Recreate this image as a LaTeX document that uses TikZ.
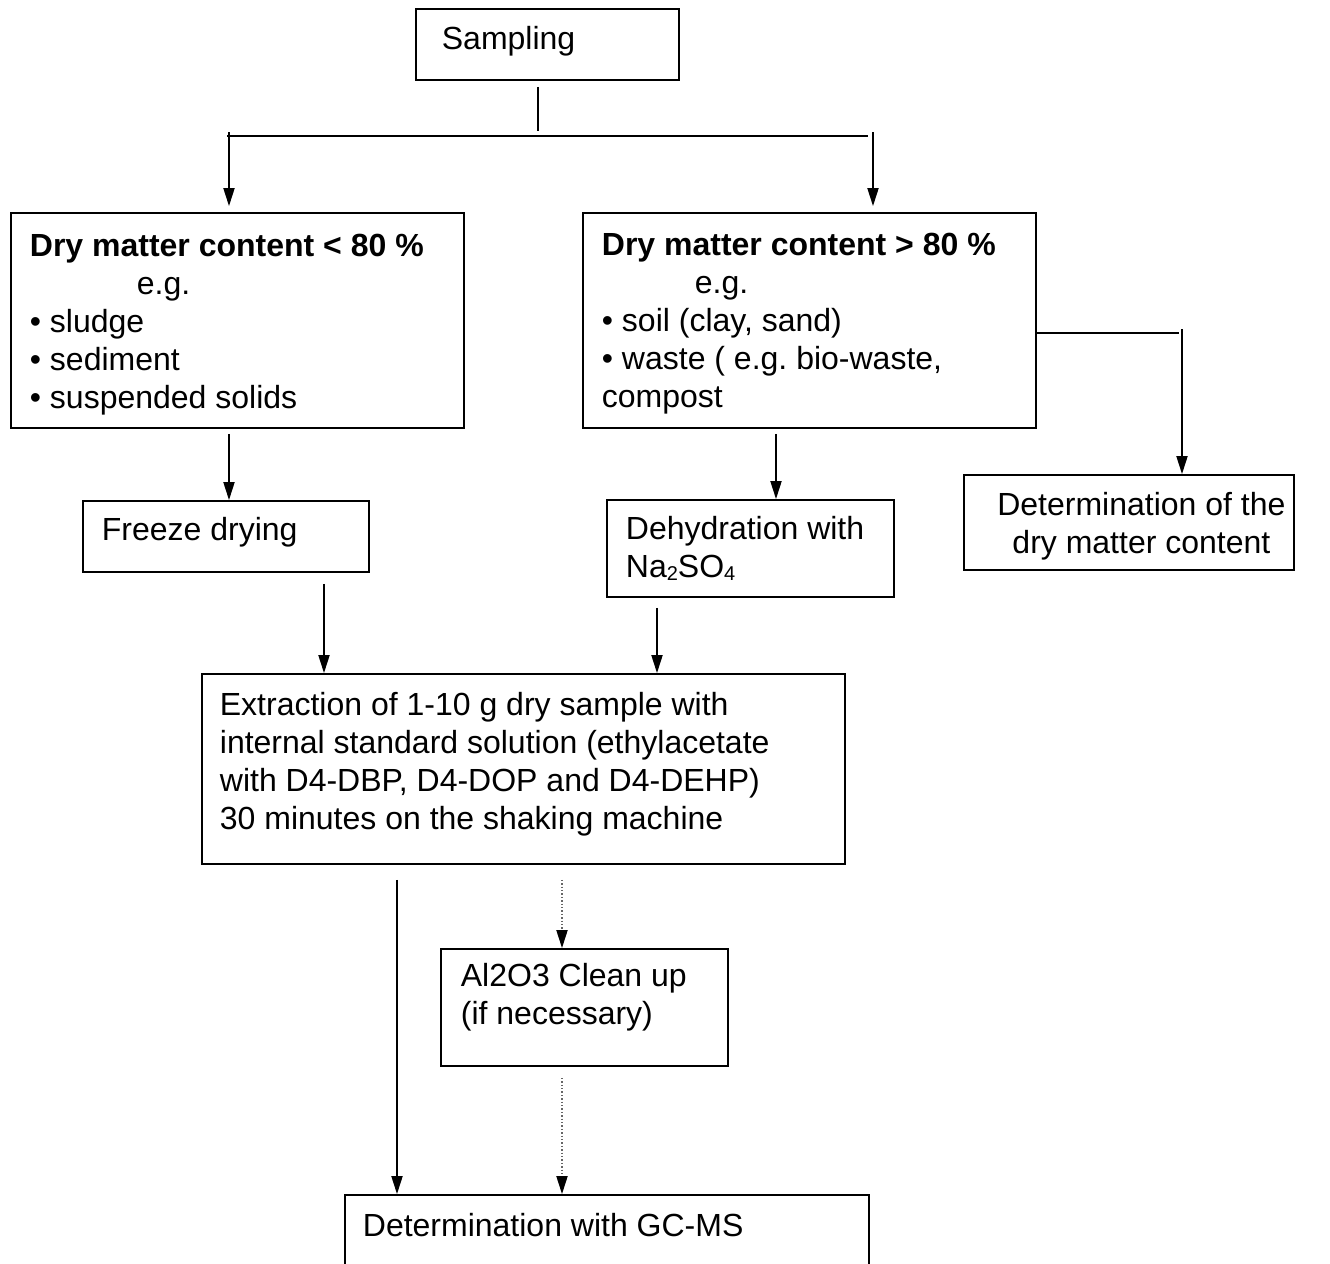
\documentclass[tikz,border=0pt]{standalone}
\usepackage{fontspec}
\setmainfont{Liberation Sans}
\usetikzlibrary{arrows.meta}

% box body: width, height, gap above first line, text
\newcommand{\boxtext}[4]{\parbox[t][#2][t]{#1}{\vspace*{#3}\raggedright\frenchspacing\strut #4}}
\newcommand{\chemsub}[1]{\raisebox{-1.5pt}{\fontsize{10}{10}\selectfont #1}}

\tikzset{
	stage/.style={draw=black, line width=0.9pt, anchor=north west, inner ysep=0pt, inner xsep=9.5pt},
	link/.style={line width=0.7pt},
	flow/.style={link, -{Triangle[length=9pt,width=5.6pt]}},
	maybe/.style={link, densely dotted, draw=black!60, -{Triangle[length=9pt,width=5.6pt,color=black]}},
}

\begin{document}
\begin{tikzpicture}[x=0.5pt, y=-0.5pt, font=\fontsize{16}{19}\selectfont]
	\useasboundingbox (0,0) rectangle (1330,1264);
	
	\node[stage, inner xsep=13pt] (sampling) at (415,8) {\boxtext{105.5pt}{35.5pt}{7.2pt}{Sampling}};
	\node[stage] (dmlow) at (10,212) {\boxtext{207.5pt}{107.5pt}{8.7pt}{\textbf{Dry matter content < 80 \%}\\
		\hspace*{53.5pt}e.g.\\ \textbullet{} sludge\\ \textbullet{} sediment\\ \textbullet{} suspended solids}};
	\node[stage] (dmhigh) at (582,212) {\boxtext{207.5pt}{107.5pt}{8.2pt}{\textbf{Dry matter content > 80 \%}\\
		\hspace*{46.5pt}e.g.\\ \textbullet{} soil (clay, sand)\\ \textbullet{} waste ( e.g. bio-waste,\\ compost}};
	\node[stage] (freeze) at (82,500) {\boxtext{124pt}{35.5pt}{6.7pt}{Freeze drying}};
	\node[stage] (dehyd) at (606,499) {\boxtext{124.5pt}{48.5pt}{6.7pt}{Dehydration with\\ Na\chemsub{2}SO\chemsub{4}}};
	\node[stage, inner xsep=0pt] (drycontent) at (963,474) {\boxtext{165pt}{47.5pt}{7.2pt}{\centering\leftskip=12.5pt plus 1fil\relax
		Determination of the\\ dry matter content}};
	\node[stage, inner xsep=9pt] (extract) at (201,673) {\boxtext{303.5pt}{95pt}{7.7pt}{Extraction of 1-10 g dry sample with\\
		internal standard solution (ethylacetate\\ with D4-DBP, D4-DOP and D4-DEHP)\\ 30 minutes on the shaking machine}};
	\node[stage, inner xsep=10pt] (clean) at (440,948) {\boxtext{123.5pt}{58.5pt}{5.7pt}{Al2O3 Clean up\\ (if necessary)}};
	\node[stage, inner xsep=9pt] (gcms) at (344,1194) {\boxtext{244pt}{50pt}{7.7pt}{Determination with GC-MS}};
	
	\coordinate (stubend) at (538,131);
	\coordinate (barL) at (227,136);
	\coordinate (barR) at (868,136);
	\coordinate (dropL) at (229,132);
	\coordinate (dropR) at (873,132);
	\coordinate (sideend) at (1179,333);
	\coordinate (sidedrop) at (1182,329);
	\coordinate (xdehyd) at (776,0);
	\coordinate (xleft) at (324,0);
	\coordinate (xright) at (657,0);
	\coordinate (xdirect) at (397,0);
	\coordinate (xclean) at (562,0);
	
	\draw[link, shorten <=3pt] (sampling.south -| stubend) -- (stubend);
	\draw[link] (barL) -- (barR);
	\draw[flow, shorten >=3pt] (dropL) -- (dropL |- dmlow.north);
	\draw[flow, shorten >=3pt] (dropR) -- (dropR |- dmhigh.north);
	\draw[flow, shorten <=2.5pt] (dmlow.south -| dropL) -- (freeze.north -| dropL);
	\draw[flow, shorten <=2.5pt] (dmhigh.south -| xdehyd) -- (dehyd.north -| xdehyd);
	\draw[link] (dmhigh.east |- sideend) -- (sideend);
	\draw[flow] (sidedrop) -- (sidedrop |- drycontent.north);
	\draw[flow, shorten <=5.5pt] (freeze.south -| xleft) -- (extract.north -| xleft);
	\draw[flow, shorten <=5pt] (dehyd.south -| xright) -- (extract.north -| xright);
	\draw[flow, shorten <=7.5pt] (extract.south -| xdirect) -- (gcms.north -| xdirect);
	\draw[maybe, shorten <=7.5pt] (extract.south -| xclean) -- (clean.north -| xclean);
	\draw[maybe, shorten <=5.5pt] (clean.south -| xclean) -- (gcms.north -| xclean);
	
\end{tikzpicture}
\end{document}
